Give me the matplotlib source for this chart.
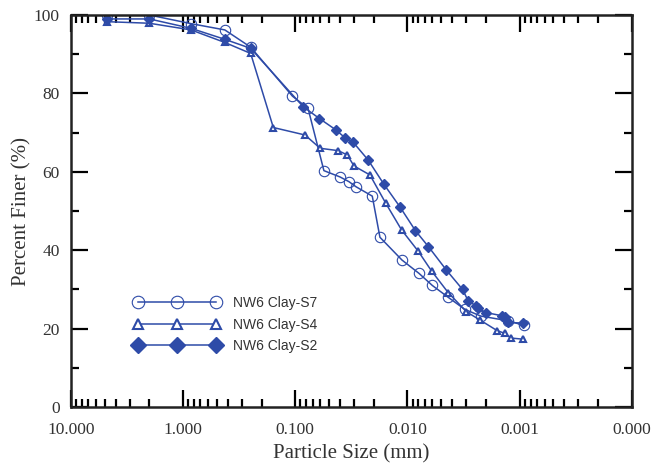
import numpy as np
import matplotlib
matplotlib.use("Agg")
import matplotlib.pyplot as plt
from matplotlib.ticker import LogLocator, FixedLocator, FuncFormatter

# grain size data, particle size in mm / percent finer
s7_size = [4.75, 2.0, 0.85, 0.425, 0.25, 0.106, 0.077, 0.0556, 0.040, 0.0333,
           0.0288, 0.0206, 0.0176, 0.0112, 0.0079, 0.0060, 0.00434, 0.00308,
           0.00222, 0.00127, 0.00091]
s7_finer = [100.0, 100.0, 97.8, 96.2, 91.8, 79.3, 76.2, 60.3, 58.7, 57.5,
            56.2, 53.8, 43.3, 37.5, 34.1, 31.0, 28.0, 24.9,
            23.2, 22.0, 20.8]

s4_size = [4.75, 2.0, 0.85, 0.425, 0.25, 0.157, 0.082, 0.060, 0.0414, 0.0344,
           0.030, 0.0216, 0.0157, 0.0113, 0.0080, 0.0061, 0.00434, 0.00298,
           0.00226, 0.00159, 0.00136, 0.0012, 0.00093]
s4_finer = [98.3, 97.9, 96.2, 93.0, 90.2, 71.3, 69.4, 66.0, 65.4, 64.3,
            61.5, 59.2, 52.1, 45.2, 39.7, 34.7, 29.2, 24.3,
            22.2, 19.5, 18.8, 17.6, 17.3]

s2_size = [4.75, 2.0, 0.85, 0.425, 0.25, 0.085, 0.061, 0.0435, 0.0361, 0.0308,
           0.0224, 0.0162, 0.0117, 0.0085, 0.0065, 0.00449, 0.00323, 0.00288,
           0.00245, 0.00234, 0.0020, 0.00145, 0.00136, 0.00128, 0.00094]
s2_finer = [99.0, 99.0, 96.6, 93.8, 91.5, 76.6, 73.6, 70.7, 68.7, 67.7,
            63.0, 56.8, 51.1, 45.0, 40.9, 34.9, 30.0, 27.1,
            25.8, 25.2, 24.1, 23.3, 23.0, 21.6, 21.4]

labels = ['NW6 Clay-S7', 'NW6 Clay-S4', 'NW6 Clay-S2']
x_ticks = [10, 1, 0.1, 0.01, 0.001, 0.0001]

blue = '#2E4BA8'

fig = plt.figure(figsize=(6.63, 4.65), dpi=100)
ax = fig.add_axes([0.107, 0.1247, 0.846, 0.843])

ax.plot(s7_size, s7_finer, color=blue, lw=1.1, marker='o', ms=7.5,
        mfc='none', mec=blue, mew=0.8, label=labels[0])
ax.plot(s4_size, s4_finer, color=blue, lw=1.1, marker='^', ms=5,
        mfc='white', mec=blue, mew=1.5, label=labels[1])
ax.plot(s2_size, s2_finer, color=blue, lw=1.1, marker='D', ms=5.5,
        mfc=blue, mec=blue, label=labels[2])

ax.set_xscale('log')
ax.set_xlim(10, 0.0001)
ax.set_ylim(0, 100)

ax.xaxis.set_major_locator(FixedLocator(x_ticks))
ax.xaxis.set_minor_locator(LogLocator(base=10, subs=np.arange(2, 10), numticks=20))
ax.xaxis.set_major_formatter(FuncFormatter(lambda v, p: '%.3f' % v))
ax.xaxis.set_minor_formatter(FuncFormatter(lambda v, p: ''))
ax.set_yticks(np.arange(0, 101, 20))
ax.set_yticks(np.arange(10, 100, 20), minor=True)

ax.tick_params(which='both', direction='in', top=True, right=True, width=1.6,
               labelsize=12.5)
ax.tick_params(axis='x', which='major', pad=11)
ax.tick_params(axis='y', which='major', pad=8)
ax.tick_params(which='major', length=12)
ax.tick_params(which='minor', length=6)
for lab in ax.get_xticklabels() + ax.get_yticklabels():
    lab.set_fontfamily('Liberation Serif')
    lab.set_color('#333333')
for sp in ax.spines.values():
    sp.set_linewidth(1.8)
    sp.set_color('#222222')

ax.set_xlabel('Particle Size (mm)', fontsize=15, family='Liberation Serif',
              color='#333333', labelpad=4)
ax.set_ylabel('Percent Finer (%)', fontsize=15, family='Liberation Serif',
              color='#333333', labelpad=2)

leg = ax.legend(loc='lower left', bbox_to_anchor=(0.09, 0.105), frameon=False,
                numpoints=3, handlelength=6.2, handletextpad=0.9,
                labelspacing=0.55, prop={'family': 'Liberation Sans', 'size': 10})
for h, ms in zip(leg.legend_handles, [9, 7, 8.5]):
    h.set_markersize(ms)
for t in leg.get_texts():
    t.set_color('#333333')

fig.savefig('out.png', dpi=100)
